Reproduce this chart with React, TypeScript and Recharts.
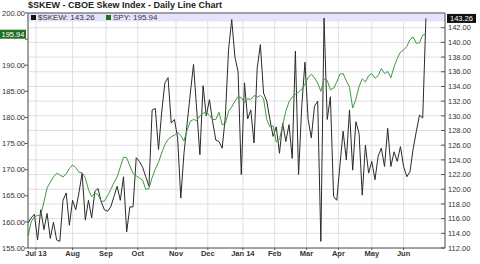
import React from "react";
import {
  LineChart,
  Line,
  XAxis,
  YAxis,
  CartesianGrid,
  ReferenceLine,
  ReferenceArea,
  Legend,
} from "recharts";

// one value every 2 trading days, starting Jun 24 2013
const skew = [
  115.4, 116.1, 116.6, 113.1, 117.2, 114.5, 116.7, 113.3, 115.5, 113.1,
  112.9, 118.5, 119.5, 115.1, 118.5, 117.2, 119.5, 122.2, 115.8, 118.5,
  116.1, 119.7, 120.1, 118.3, 117.2, 117.0, 117.6, 119.0, 120.4, 118.5,
  121.7, 114.2, 117.6, 117.6, 124.3, 123.8, 123.0, 121.7, 120.4, 130.8,
  131.0, 125.4, 130.5, 134.5, 135.2, 129.0, 129.5, 127.0, 118.8, 124.9,
  129.0, 133.1, 137.0, 130.8, 124.7, 134.1, 130.0, 132.2, 129.2, 126.7,
  126.5, 125.6, 129.9, 139.0, 143.1, 138.0, 136.0, 122.0, 134.5, 129.6,
  130.8, 126.3, 136.5, 139.7, 133.1, 132.0, 129.5, 127.2, 128.5, 124.9,
  129.0, 126.5, 128.8, 124.2, 138.8, 122.0, 131.3, 137.3, 129.5, 127.0,
  131.3, 132.0, 112.9, 143.3, 129.5, 132.6, 119.0, 118.5, 123.3, 127.9,
  124.0, 130.8, 122.6, 129.2, 127.6, 119.2, 126.0, 122.2, 123.8, 121.3,
  124.5, 125.6, 123.1, 128.3, 123.1, 125.1, 123.8, 125.8, 123.1, 121.7,
  122.4, 125.5, 127.9, 130.1, 129.7, 143.26,
];

const spy = [
  157.3, 160.0, 161.0, 161.2, 161.3, 163.8, 166.5, 167.6, 168.6, 169.3,
  169.0, 168.6, 169.2, 170.2, 170.9, 170.4, 169.5, 169.4, 168.4, 166.2,
  164.8, 165.5, 165.2, 163.9, 164.0, 165.0, 166.2, 167.5, 168.6, 170.5,
  172.4, 172.3, 170.7, 169.3, 168.8, 168.4, 168.0, 166.2, 166.4, 168.5,
  170.1, 171.4, 173.2, 174.8, 175.8, 176.3, 176.6, 177.2, 176.5, 175.5,
  177.6, 179.3, 179.6, 179.4, 180.3, 180.8, 181.0, 180.4, 179.6, 179.6,
  181.0, 178.6, 178.8, 181.2, 182.0, 183.1, 184.0, 183.8, 182.8, 183.6,
  183.4, 184.2, 183.9, 184.2, 183.6, 179.6, 178.2, 178.4, 175.3, 175.8,
  178.5, 181.2, 183.0, 183.9, 184.4, 184.9, 185.4, 186.4, 187.6, 188.3,
  187.6, 186.6, 185.0, 187.4, 187.1, 185.3, 185.6, 186.8, 188.3, 188.4,
  187.0, 185.8, 181.8, 183.5, 185.9, 187.4, 186.8, 188.0, 188.4, 187.5,
  188.0, 189.4, 188.4, 188.8, 187.6, 189.7, 191.3, 192.5, 192.9, 193.6,
  194.9, 195.4, 194.2, 194.3, 195.8, 195.94,
];

const monthTicks = [5, 28, 49, 69, 93, 113, 135, 155, 175, 195, 216, 236];
const monthLabels = [
  "Jul 13", "Aug", "Sep", "Oct", "Nov", "Dec",
  "Jan 14", "Feb", "Mar", "Apr", "May", "Jun",
];
const spyTicks = [155, 160, 165, 170, 175, 180, 185, 190, 195, 200];
const skewTicks = [
  112, 114, 116, 118, 120, 122, 124, 126, 128, 130, 132, 134, 136, 138, 140, 142,
];

const chartData = skew.map((v, i) => ({ day: i * 2, skew: v, spy: spy[i] }));
const lastSkew = skew[skew.length - 1];
const lastSpy = spy[spy.length - 1];

const AXIS = "#555";
const TEXT = "#333";
const GREEN = "#3f9a3f";
const DARK_GREEN = "#1f6f1f";

const LeftTick = ({ x, y, payload }: any) =>
  payload.value === 195 ? (
    <g />
  ) : (
    <text x={x} y={y} dy={2.7} textAnchor="end" fontSize={7.5} fill={TEXT}>
      {payload.value.toFixed(2)}
    </text>
  );

const RightTick = ({ x, y, payload }: any) => (
  <g>
    <line x1={x - 7} x2={x - 3} y1={y} y2={y} stroke={AXIS} />
    <text x={x} y={y} dy={2.7} fontSize={7.5} fill={TEXT}>
      {payload.value.toFixed(2)}
    </text>
  </g>
);

// value flags on the axes
const SpyFlag = ({ viewBox }: any) => (
  <g>
    <rect x={viewBox.x - 28} y={viewBox.y - 4.5} width={26} height={9} fill={DARK_GREEN} />
    <text x={viewBox.x - 15} y={viewBox.y} dy={2.7} textAnchor="middle" fontSize={7.5} fill="#fff">
      {lastSpy.toFixed(2)}
    </text>
  </g>
);

const SkewFlag = ({ viewBox }: any) => (
  <g>
    <rect x={viewBox.x + viewBox.width + 2} y={viewBox.y - 4.5} width={29} height={9} fill="#111" />
    <text
      x={viewBox.x + viewBox.width + 16.5}
      y={viewBox.y}
      dy={2.7}
      textAnchor="middle"
      fontSize={7.5}
      fill="#fff"
    >
      {lastSkew.toFixed(2)}
    </text>
  </g>
);

const LegendBar = () => (
  <div style={{ position: "relative", height: 9, fontSize: 8, color: TEXT, lineHeight: "9px" }}>
    <span style={{ position: "absolute", left: 3, top: 2, width: 5, height: 5, background: "#111" }} />
    <span style={{ position: "absolute", left: 10, top: 0 }}>$SKEW: {lastSkew.toFixed(2)}</span>
    <span style={{ position: "absolute", left: 78, top: 2, width: 5, height: 5, background: DARK_GREEN }} />
    <span style={{ position: "absolute", left: 85, top: 0 }}>SPY: {lastSpy.toFixed(2)}</span>
  </div>
);

export default function App() {
  return (
    <div
      style={{
        position: "absolute",
        left: 0,
        top: 0,
        width: 480,
        height: 264,
        background: "#fff",
        fontFamily: "'Liberation Sans', Arial, sans-serif",
      }}
    >
      <div
        style={{
          position: "absolute",
          left: 28,
          top: 0,
          fontSize: 9,
          lineHeight: "11px",
          fontWeight: "bold",
          color: "#222",
          zIndex: 2,
        }}
      >
        $SKEW - CBOE Skew Index - Daily Line Chart
      </div>
      <LineChart
        width={480}
        height={264}
        data={chartData}
        margin={{ top: 13, right: 0, bottom: 0, left: 0 }}
      >
        <CartesianGrid yAxisId="right" stroke="#dedede" />
        <ReferenceArea yAxisId="right" y1={142.85} y2={144} fill="#e3e3fb" fillOpacity={1} stroke="none" />
        <XAxis
          dataKey="day"
          type="number"
          domain={[0, 262]}
          ticks={monthTicks}
          tickFormatter={(v) => monthLabels[monthTicks.indexOf(v)]}
          interval={0}
          height={16}
          tickSize={2}
          tickMargin={1}
          stroke={AXIS}
          tick={{ fontSize: 7.5, fontWeight: "bold", fill: TEXT }}
        />
        <YAxis
          yAxisId="left"
          orientation="left"
          width={28}
          domain={[155, 200]}
          ticks={spyTicks}
          interval={0}
          tickSize={3}
          tickMargin={0}
          stroke={AXIS}
          tick={<LeftTick />}
        />
        <YAxis
          yAxisId="right"
          orientation="right"
          width={35}
          domain={[112, 144]}
          ticks={skewTicks}
          interval={0}
          tickSize={0}
          tickMargin={3}
          tickLine={false}
          stroke={AXIS}
          tick={<RightTick />}
        />
        <ReferenceLine yAxisId="right" y={144} stroke={AXIS} />
        <Line
          yAxisId="right"
          dataKey="skew"
          type="linear"
          stroke="#2a2a2a"
          strokeWidth={1}
          dot={false}
          isAnimationActive={false}
        />
        <Line
          yAxisId="left"
          dataKey="spy"
          type="linear"
          stroke={GREEN}
          strokeWidth={1}
          dot={false}
          isAnimationActive={false}
        />
        <ReferenceLine yAxisId="left" y={lastSpy} stroke="none" label={(p: any) => <SpyFlag {...p} />} />
        <ReferenceLine yAxisId="right" y={lastSkew} stroke="none" label={(p: any) => <SkewFlag {...p} />} />
        <Legend
          layout="vertical"
          align="center"
          verticalAlign="middle"
          wrapperStyle={{ position: "absolute", top: 13, left: 28, width: 417, height: 9, margin: 0 }}
          content={() => <LegendBar />}
        />
      </LineChart>
    </div>
  );
}
